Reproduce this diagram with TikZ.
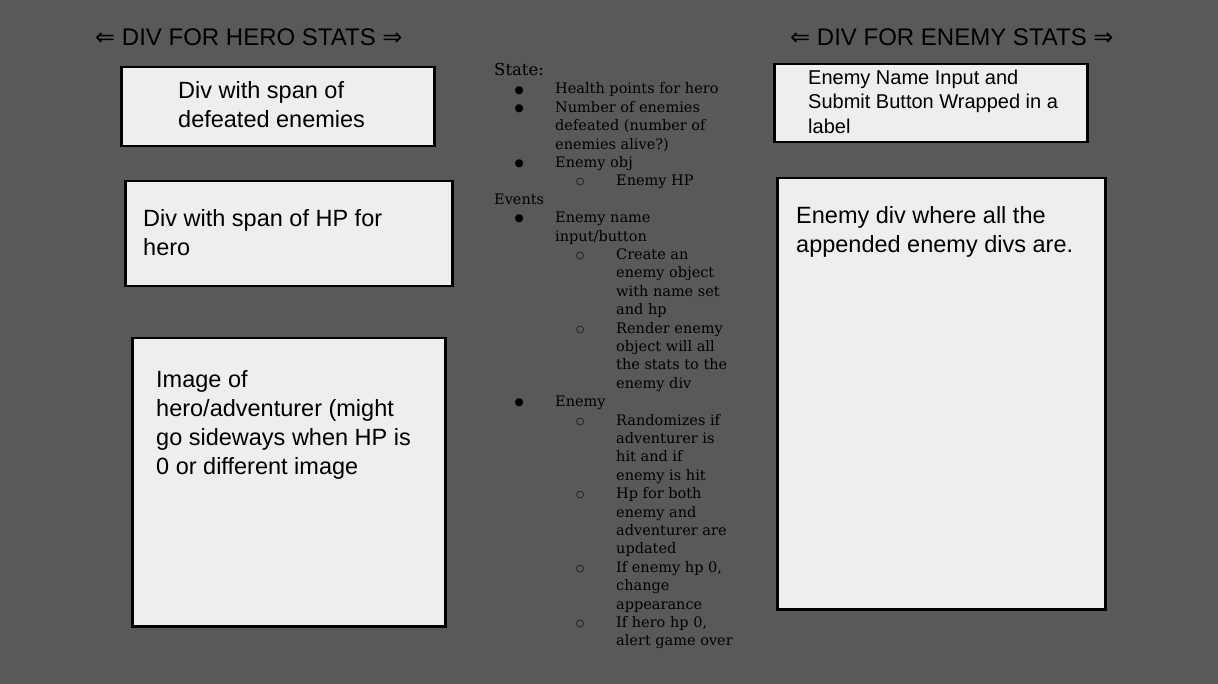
\documentclass[tikz,border=0pt]{standalone}
\usepackage{fontspec}
\setmainfont{DejaVu Serif}
\newfontfamily\arialfont{Liberation Sans}
\newfontfamily\dejavusans{DejaVu Sans}
\usetikzlibrary{positioning}
\definecolor{slidegray}{HTML}{595959}
\definecolor{boxgray}{HTML}{EEEEEE}
\tikzset{
  divbox/.style={draw=black, line width=2.5pt, fill=boxgray, anchor=north west, inner sep=0pt},
  boxtext/.style={anchor=north west, align=left, inner sep=0pt, font=\arialfont\fontsize{23.5}{29}\selectfont},
  headtext/.style={anchor=base west, inner sep=0pt, font=\arialfont\fontsize{24}{29}\selectfont}
}
% list lines of the middle column
\newcommand\itm[1]{\hspace*{20.4pt}\makebox[40.6pt][l]{\raisebox{0.8pt}{\dejavusans\fontsize{10.5}{10}\selectfont●}}#1}
\newcommand\itmcont[1]{\hspace*{61pt}#1}
\newcommand\subitm[1]{\hspace*{81.8pt}\makebox[40.2pt][l]{\raisebox{1pt}{\dejavusans\fontsize{9.5}{10}\selectfont○}}#1}
\newcommand\subcont[1]{\hspace*{122pt}#1}
\newcommand\dblarrow[1]{{\dejavusans⇐}~#1~{\dejavusans⇒}}
\begin{document}
\begin{tikzpicture}[x=1pt, y=-1pt]
  \fill[slidegray] (0,0) rectangle (1218,684);
  \useasboundingbox (0,0) rectangle (1218,684);

  % Hero side
  \node[headtext] (herohead) at (95,46) {\dblarrow{DIV FOR HERO STATS}};
  \node[divbox, minimum width=313pt, minimum height=79pt] (defeatbox) at (120,66) {};
  \node[boxtext] (defeattext) at (178,81.5) {Div with span of\\defeated enemies};
  \node[divbox, minimum width=327pt, minimum height=105pt] (hpbox) at (124,180) {};
  \node[boxtext] (hptext) at (143,209.5) {Div with span of HP for\\hero};
  \node[divbox, minimum width=313pt, minimum height=288pt] (imagebox) at (131,337) {};
  \node[boxtext] (imagetext) at (156,370) {Image of\\hero/adventurer (might\\go sideways when HP is\\0 or different image};

  % Enemy side
  \node[headtext] (enemyhead) at (790,46) {\dblarrow{DIV FOR ENEMY STATS}};
  \node[divbox, minimum width=313pt, minimum height=78pt] (inputbox) at (773,63) {};
  \node[boxtext, font=\arialfont\fontsize{20}{24.5}\selectfont] (inputtext) at (808,69.4)
    {Enemy Name Input and\\Submit Button Wrapped in a\\label};
  \node[divbox, minimum width=328pt, minimum height=431pt] (enemybox) at (776,177) {};
  \node[boxtext] (enemytext) at (796,206.5) {Enemy div where all the\\appended enemy divs are.};

  % State and events notes
  \node[anchor=north west, align=left, inner sep=0pt, font=\fontsize{14.5}{18.4}\selectfont] (notes) at (494,63) {
    {\fontsize{16.5}{18.4}\selectfont State:}\\
    \itm{Health points for hero}\\
    \itm{Number of enemies}\\
    \itmcont{defeated (number of}\\
    \itmcont{enemies alive?)}\\
    \itm{Enemy obj}\\
    \subitm{Enemy HP}\\
    Events\\
    \itm{Enemy name}\\
    \itmcont{input/button}\\
    \subitm{Create an}\\
    \subcont{enemy object}\\
    \subcont{with name set}\\
    \subcont{and hp}\\
    \subitm{Render enemy}\\
    \subcont{object will all}\\
    \subcont{the stats to the}\\
    \subcont{enemy div}\\
    \itm{Enemy}\\
    \subitm{Randomizes if}\\
    \subcont{adventurer is}\\
    \subcont{hit and if}\\
    \subcont{enemy is hit}\\
    \subitm{Hp for both}\\
    \subcont{enemy and}\\
    \subcont{adventurer are}\\
    \subcont{updated}\\
    \subitm{If enemy hp 0,}\\
    \subcont{change}\\
    \subcont{appearance}\\
    \subitm{If hero hp 0,}\\
    \subcont{alert game over}};
\end{tikzpicture}
\end{document}
